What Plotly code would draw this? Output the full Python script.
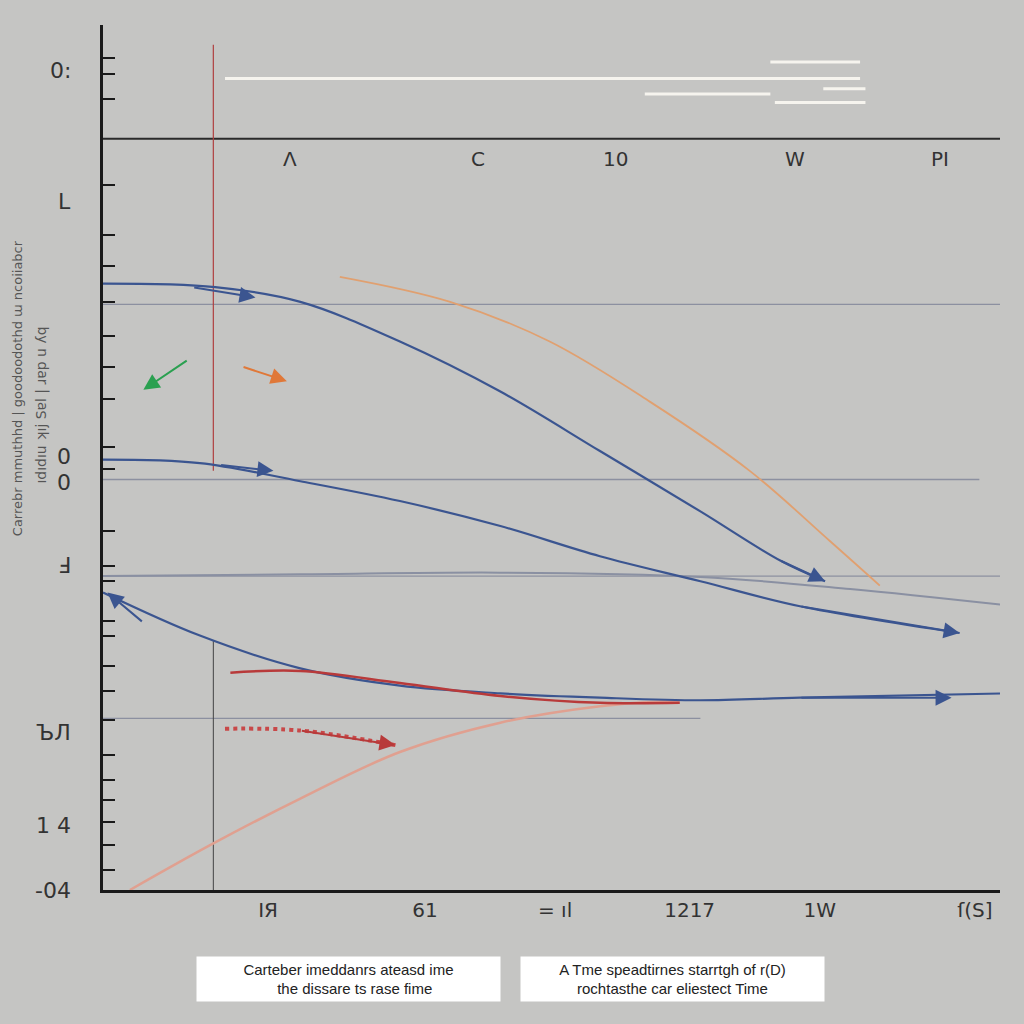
import plotly.graph_objects as go

# ---- data (arbitrary units: time 0..10, value 0..10) ----
blue1_x = [0.0, 1.25, 2.2, 3.31, 4.43, 5.54, 6.66, 7.55, 8.05]
blue1_y = [7.03, 6.99, 6.82, 6.36, 5.78, 5.09, 4.39, 3.82, 3.58]
blue2_x = [0.0, 1.08, 2.2, 3.31, 4.43, 5.54, 6.66, 7.77, 9.55]
blue2_y = [4.99, 4.95, 4.74, 4.51, 4.22, 3.87, 3.58, 3.29, 2.98]
blue3_x = [0.0, 1.08, 2.2, 3.31, 4.43, 5.54, 6.66, 7.77, 10.06]
blue3_y = [3.45, 2.95, 2.57, 2.37, 2.28, 2.23, 2.20, 2.23, 2.28]
red_x = [1.42, 2.2, 3.31, 4.43, 5.54, 6.43]
red_y = [2.52, 2.54, 2.40, 2.25, 2.17, 2.17]
orange_x = [2.64, 3.87, 4.98, 6.1, 7.21, 8.1, 8.66]
orange_y = [7.11, 6.82, 6.36, 5.66, 4.86, 4.05, 3.53]
salmon_x = [0.3, 1.23, 2.2, 3.31, 4.43, 5.54, 6.43]
salmon_y = [0.0, 0.54, 1.06, 1.60, 1.94, 2.13, 2.20]
gray_x = [0.0, 2.2, 4.43, 6.66, 8.33, 10.17]
gray_y = [3.64, 3.66, 3.68, 3.63, 3.49, 3.29]
hatch_x = [1.36, 2.2, 3.26]
hatch_y = [1.87, 1.85, 1.68]

ref_levels = [6.79, 4.76, 3.64, 1.99]
ref_ends = [10.0, 9.77, 10.0, 6.66]
ref_starts = [0.0, 0.0, 0.0, -0.2]
top_axis_level = 8.71
red_vline_x = 1.23
red_vline_y = [4.86, 9.80]
dark_vline_y = [0.0, 2.89]

white_starts = [1.36, 6.04, 7.44, 7.49, 8.03]
white_ends = [8.44, 7.44, 8.44, 8.5, 8.5]
white_levels = [9.41, 9.23, 9.6, 9.13, 9.29]

bottom_tick_pos = [1.84, 3.59, 5.04, 6.54, 7.99, 9.72]
bottom_tick_text = ["IЯ", "61", "= ıl", "1217", "1W", "ſ(S]"]
top_tick_pos = [2.08, 4.18, 5.71, 7.71, 9.33]
top_tick_text = ["Λ", "C", "10", "W", "PI"]
left_tick_vals = [9.65, 9.46, 9.17, 8.18, 7.6, 7.23, 6.82, 6.42, 6.07, 5.69, 5.14, 4.88,
                  4.16, 3.76, 3.58, 3.12, 2.95, 2.6, 2.31, 1.97, 1.56, 1.27, 1.04, 0.79, 0.52, 0.23]
left_label_pos = [9.5, 7.98, 5.03, 4.72, 3.76, 1.83, 0.75, 0.0]
left_label_text = ["0:", "L", "0", "0", "Ⅎ", "ЪЛ", "1 4", "-04"]

BG = "#c5c5c3"
BLUE = "#3b5590"

fig = go.Figure()

# reference lines
for x0, x1, y in zip(ref_starts, ref_ends, ref_levels):
    fig.add_trace(go.Scatter(x=[x0, x1], y=[y, y], mode="lines", cliponaxis=False,
                             line=dict(color="#8c90a0", width=1.3), hoverinfo="skip"))
fig.add_trace(go.Scatter(x=[0, 10], y=[top_axis_level, top_axis_level], mode="lines",
                         line=dict(color="#2a2a2a", width=2), hoverinfo="skip"))
fig.add_trace(go.Scatter(x=[red_vline_x, red_vline_x], y=red_vline_y, mode="lines",
                         line=dict(color="#b04040", width=1.2), hoverinfo="skip"))
fig.add_trace(go.Scatter(x=[red_vline_x, red_vline_x], y=dark_vline_y, mode="lines",
                         line=dict(color="#444444", width=1), hoverinfo="skip"))
for x0, x1, y in zip(white_starts, white_ends, white_levels):
    fig.add_trace(go.Scatter(x=[x0, x1], y=[y, y], mode="lines",
                             line=dict(color="#f6f4ee", width=3), hoverinfo="skip"))

# curves
fig.add_trace(go.Scatter(x=gray_x, y=gray_y, mode="lines", line=dict(color="#8a90a2", width=2, shape="spline")))
fig.add_trace(go.Scatter(x=salmon_x, y=salmon_y, mode="lines", line=dict(color="#e0a090", width=2.5, shape="spline")))
fig.add_trace(go.Scatter(x=orange_x, y=orange_y, mode="lines", line=dict(color="#e0a070", width=1.8, shape="spline")))
fig.add_trace(go.Scatter(x=blue1_x, y=blue1_y, mode="lines", line=dict(color=BLUE, width=2.2, shape="spline")))
fig.add_trace(go.Scatter(x=blue2_x, y=blue2_y, mode="lines", line=dict(color=BLUE, width=2.2, shape="spline")))
fig.add_trace(go.Scatter(x=blue3_x, y=blue3_y, mode="lines", line=dict(color=BLUE, width=2.2, shape="spline")))
fig.add_trace(go.Scatter(x=red_x, y=red_y, mode="lines", line=dict(color="#b83a3a", width=2.5, shape="spline")))
fig.add_trace(go.Scatter(x=hatch_x, y=hatch_y, mode="lines", line=dict(color="#c84848", width=4, dash="dot", shape="spline")))

# arrowheads
arrows = [
    (blue1_x[-1], blue1_y[-1], blue1_x[-2], blue1_y[-2], BLUE),
    (1.7, 6.87, 1.0, 6.99, BLUE),
    (1.9, 4.86, 1.3, 4.93, BLUE),
    (blue2_x[-1], blue2_y[-1], blue2_x[-2], blue2_y[-2], BLUE),
    (blue3_x[-1] - 0.6, blue3_y[-1] - 0.05, blue3_x[-2], blue3_y[-2], BLUE),
    (0.05, 3.45, 0.45, 3.1, BLUE),
    (hatch_x[-1], hatch_y[-1], hatch_x[-2], hatch_y[-2], "#b83a3a"),
    (0.45, 5.8, 0.95, 6.15, "#2aa050"),
    (2.05, 5.9, 1.55, 6.07, "#e07838"),
]
for ax_, ay_, tx, ty, c in arrows:
    fig.add_annotation(x=ax_, y=ay_, ax=tx, ay=ty, xref="x", yref="y", axref="x", ayref="y",
                       showarrow=True, arrowhead=2, arrowsize=1.6, arrowwidth=2, arrowcolor=c, text="")

# top "axis" labels
for p, t in zip(top_tick_pos, top_tick_text):
    fig.add_annotation(x=p, y=top_axis_level - 0.23, text=t, showarrow=False,
                       font=dict(family="DejaVu Sans", size=20, color="#333333"))
# left labels
for p, t in zip(left_label_pos, left_label_text):
    fig.add_annotation(x=0, y=p, xref="paper", xanchor="right", xshift=-30, text=t, showarrow=False,
                       font=dict(family="DejaVu Sans", size=22, color="#333333"))

# vertical garbled side titles
fig.add_annotation(x=-0.096, y=0.58, xref="paper", yref="paper", xanchor="center", textangle=-90,
                   showarrow=False, text="Carrebr mmuthhd | goodoodothd ɯ ncoiiabcr",
                   font=dict(family="DejaVu Sans", size=13, color="#555555"))
fig.add_annotation(x=-0.068, y=0.56, xref="paper", yref="paper", xanchor="center", textangle=-90,
                   showarrow=False, text="ıdıdıu ʞıj Sɐl | ɹɐp u ʎq",
                   font=dict(family="DejaVu Sans", size=14, color="#555555"))

# caption boxes
fig.add_annotation(x=0.274, y=-0.103, xref="paper", yref="paper", xanchor="center", yanchor="middle",
                   showarrow=False,
                   text="Carteber imeddanrs ateasd ime<br>   the dissare ts rase fime",
                   bgcolor="white", width=297, height=38, borderpad=3,
                   font=dict(family="Liberation Sans", size=15, color="#222222"))
fig.add_annotation(x=0.635, y=-0.103, xref="paper", yref="paper", xanchor="center", yanchor="middle",
                   showarrow=False,
                   text="A Tme speadtirnes starrtgh of r(D)<br>rochtasthe car eliestect Time",
                   bgcolor="white", width=297, height=38, borderpad=3,
                   font=dict(family="Liberation Sans", size=15, color="#222222"))

fig.update_layout(
    width=1024, height=1024, showlegend=False,
    margin=dict(l=103, r=24, t=25, b=134),
    paper_bgcolor=BG, plot_bgcolor=BG,
    xaxis=dict(range=[0, 10], showgrid=False, zeroline=False, showline=True,
               linecolor="#1a1a1a", linewidth=3, tickvals=bottom_tick_pos, ticktext=bottom_tick_text,
               ticks="", tickfont=dict(family="DejaVu Sans", size=20, color="#333333")),
    yaxis=dict(range=[0, 10.03], showgrid=False, zeroline=False, showline=True,
               linecolor="#1a1a1a", linewidth=3, tickvals=left_tick_vals,
               ticktext=[""] * len(left_tick_vals), ticks="inside", ticklen=12,
               tickwidth=2, tickcolor="#1a1a1a"),
)

fig.write_html("out.html")
